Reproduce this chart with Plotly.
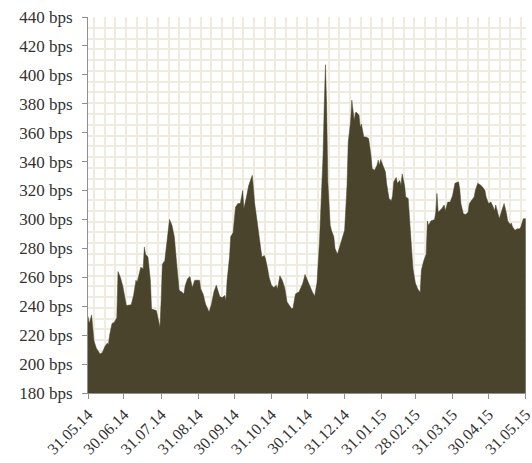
import plotly.graph_objects as go

dates = [
    "2014-05-31", "2014-06-01", "2014-06-03", "2014-06-05", "2014-06-07", "2014-06-10", "2014-06-12",
    "2014-06-14", "2014-06-16", "2014-06-17", "2014-06-18", "2014-06-20", "2014-06-22", "2014-06-24",
    "2014-06-25", "2014-06-27", "2014-06-29", "2014-07-01", "2014-07-02", "2014-07-06", "2014-07-08",
    "2014-07-10", "2014-07-11", "2014-07-13", "2014-07-14", "2014-07-16", "2014-07-17", "2014-07-18",
    "2014-07-20", "2014-07-22", "2014-07-23", "2014-07-27", "2014-07-28", "2014-07-30", "2014-07-31",
    "2014-08-01", "2014-08-03", "2014-08-05", "2014-08-07", "2014-08-09", "2014-08-11", "2014-08-13",
    "2014-08-15", "2014-08-17", "2014-08-19", "2014-08-20", "2014-08-22", "2014-08-24", "2014-08-26",
    "2014-08-28", "2014-09-01", "2014-09-02", "2014-09-04", "2014-09-06", "2014-09-09", "2014-09-11",
    "2014-09-13", "2014-09-15", "2014-09-16", "2014-09-18", "2014-09-20", "2014-09-22", "2014-09-23",
    "2014-09-24", "2014-09-26", "2014-09-27", "2014-09-29", "2014-10-01", "2014-10-03", "2014-10-05",
    "2014-10-07", "2014-10-08", "2014-10-10", "2014-10-11", "2014-10-12", "2014-10-15", "2014-10-16",
    "2014-10-17", "2014-10-19", "2014-10-21", "2014-10-23", "2014-10-25", "2014-10-26", "2014-10-28",
    "2014-10-29", "2014-10-31", "2014-11-02", "2014-11-04", "2014-11-05", "2014-11-07", "2014-11-09",
    "2014-11-11", "2014-11-13", "2014-11-15", "2014-11-17", "2014-11-18", "2014-11-20", "2014-11-23",
    "2014-11-26", "2014-11-28", "2014-11-30", "2014-12-02", "2014-12-04", "2014-12-06", "2014-12-08",
    "2014-12-10", "2014-12-11", "2014-12-13", "2014-12-14", "2014-12-15", "2014-12-16", "2014-12-17",
    "2014-12-19", "2014-12-20", "2014-12-22", "2014-12-23", "2014-12-25", "2014-12-26", "2014-12-28",
    "2014-12-30", "2014-12-31", "2015-01-02", "2015-01-03", "2015-01-04", "2015-01-05", "2015-01-06",
    "2015-01-08", "2015-01-09", "2015-01-10", "2015-01-12", "2015-01-13", "2015-01-14", "2015-01-16",
    "2015-01-18", "2015-01-20", "2015-01-22", "2015-01-23", "2015-01-25", "2015-01-27", "2015-01-28",
    "2015-01-29", "2015-01-30", "2015-02-01", "2015-02-03", "2015-02-04", "2015-02-06", "2015-02-08",
    "2015-02-09", "2015-02-10", "2015-02-12", "2015-02-13", "2015-02-15", "2015-02-16", "2015-02-17",
    "2015-02-19", "2015-02-20", "2015-02-22", "2015-02-23", "2015-02-25", "2015-02-26", "2015-02-28",
    "2015-03-02", "2015-03-04", "2015-03-05", "2015-03-07", "2015-03-09", "2015-03-10", "2015-03-11",
    "2015-03-13", "2015-03-16", "2015-03-17", "2015-03-18", "2015-03-19", "2015-03-22", "2015-03-24",
    "2015-03-25", "2015-03-27", "2015-03-29", "2015-03-31", "2015-04-02", "2015-04-05", "2015-04-06",
    "2015-04-07", "2015-04-09", "2015-04-11", "2015-04-13", "2015-04-14", "2015-04-16", "2015-04-18",
    "2015-04-19", "2015-04-21", "2015-04-23", "2015-04-25", "2015-04-27", "2015-04-28", "2015-04-30",
    "2015-05-02", "2015-05-04", "2015-05-05", "2015-05-06", "2015-05-08", "2015-05-09", "2015-05-11",
    "2015-05-12", "2015-05-13", "2015-05-15", "2015-05-16", "2015-05-18", "2015-05-19", "2015-05-20",
    "2015-05-22", "2015-05-24", "2015-05-26", "2015-05-27", "2015-05-29", "2015-05-31",
]

spread_bps = [
    233, 228, 234, 216, 211, 207, 208,
    212, 214.5, 213.5, 220, 228, 229, 232,
    264, 260, 254, 243, 240.5, 241, 247.5,
    258, 256.5, 263.5, 267, 266, 281, 276,
    274, 258, 238, 237, 233.5, 225.5, 244,
    269, 271.5, 286.5, 300, 296, 288, 269,
    251, 250, 248.5, 254, 259, 260.5, 253,
    258, 258, 252, 248.5, 241.5, 236, 241.5,
    250, 254.5, 252, 246.5, 246, 247.5, 244,
    258, 274, 288, 291, 308.5, 311, 311,
    320, 307.5, 315, 319, 323.5, 330.5, 318,
    311, 299, 288, 274, 275, 273, 265,
    260, 254.5, 253, 254.5, 252, 261, 258,
    253, 243, 240.5, 238, 239, 248.5, 250,
    255.5, 262, 258, 253, 250, 247, 256.5,
    284, 303, 344, 379, 407, 379, 326,
    296, 292.5, 288, 280, 276, 278.5, 284,
    290, 292.5, 323.5, 353.5, 360.5, 368, 382.5,
    368.5, 374, 374, 372, 364, 366, 357,
    357, 356, 344, 335, 334, 337.5, 341,
    337.5, 341.5, 337.5, 333, 325, 314.5, 313,
    316.5, 326, 329, 325, 327, 323.5, 331.5,
    323.5, 315.5, 314.5, 303, 284, 266, 256,
    252, 249.5, 265, 271.5, 276, 299, 296,
    299, 300, 305, 318, 305, 307.5, 310,
    306, 312, 312, 316.5, 325, 326, 321,
    311, 304, 303.5, 305, 311, 313, 315.5,
    320, 325, 324, 322.5, 320, 315.5, 311,
    312, 308.5, 306, 310, 304, 300.5, 306,
    308.5, 311, 304, 299, 296.5, 297.5, 295,
    292.5, 293.5, 293.5, 295, 300.5, 300.5,
]

tick_dates = [
    "2014-05-31", "2014-06-30", "2014-07-31", "2014-08-31", "2014-09-30", "2014-10-31",
    "2014-11-30", "2014-12-31", "2015-01-31", "2015-02-28", "2015-03-31", "2015-04-30", "2015-05-31",
]
tick_labels = [
    "31.05.14", "30.06.14", "31.07.14", "31.08.14", "30.09.14", "31.10.14",
    "30.11.14", "31.12.14", "31.01.15", "28.02.15", "31.03.15", "30.04.15", "31.05.15",
]
y_ticks = [180, 200, 220, 240, 260, 280, 300, 320, 340, 360, 380, 400, 420, 440]
y_labels = [f"{v} bps" for v in y_ticks]

fill_color = "#4a442d"
grid_color = "#efebdf"
axis_color = "#8f8f8f"
font_family = "Liberation Serif, Times New Roman, Times, serif"

fig = go.Figure()
fig.add_trace(go.Scatter(
    x=dates, y=spread_bps, mode="lines",
    line=dict(color=fill_color, width=0.5),
    fill="tozeroy", fillcolor=fill_color,
    hoverinfo="x+y",
))

fig.update_layout(
    width=532, height=463,
    margin=dict(l=88, r=6, t=17, b=70),
    paper_bgcolor="white", plot_bgcolor="white",
    showlegend=False,
    font=dict(family=font_family, size=16, color="#333333"),
    xaxis=dict(
        type="date",
        range=["2014-05-31", "2015-05-31 06:00"],
        tickvals=tick_dates, ticktext=tick_labels,
        tickangle=-45, automargin=False,
        ticklabeloverflow="allow",
        ticks="outside", ticklen=5, tickcolor=axis_color, tickwidth=1,
        showline=True, linecolor=axis_color, linewidth=1,
        showgrid=False, zeroline=False,
        tickfont=dict(family=font_family, size=16, color="#333333"),
        minor=dict(showgrid=True, gridcolor=grid_color, gridwidth=2,
                   tick0="2014-06-05", dtick=8.9 * 86400000, ticks=""),
    ),
    yaxis=dict(
        range=[180, 440], automargin=False,
        tickvals=y_ticks, ticktext=y_labels,
        ticks="outside", ticklen=5, tickcolor=axis_color, tickwidth=1,
        ticklabelstandoff=6,
        showline=True, linecolor=axis_color, linewidth=1,
        showgrid=False, zeroline=False,
        tickfont=dict(family=font_family, size=17, color="#333333"),
        minor=dict(showgrid=True, gridcolor=grid_color, gridwidth=2,
                   tick0=440, dtick=7.45, ticks=""),
    ),
)

fig.write_html(
    "out.html",
    config={"displayModeBar": False},
    post_script="document.body.style.margin='0';document.body.style.overflow='hidden';",
)
